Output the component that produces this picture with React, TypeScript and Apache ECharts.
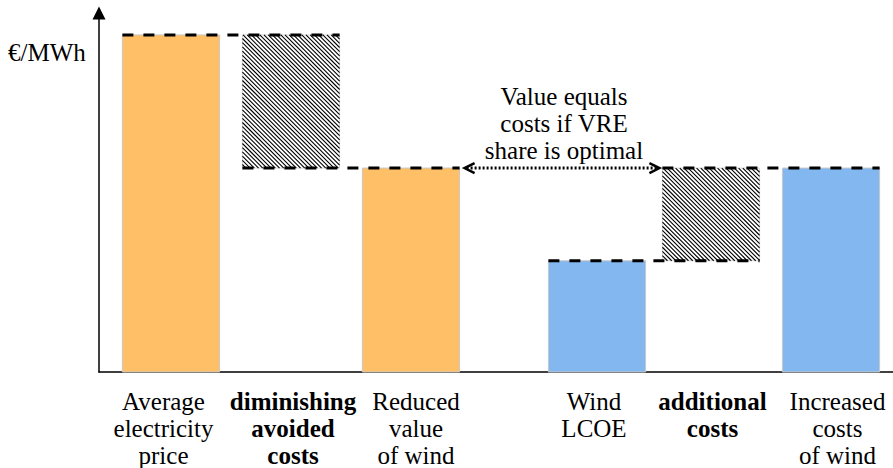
import React, { useEffect, useRef } from 'react';
import * as echarts from 'echarts';

// ---- data ----
const categories = [
  'Average\nelectricity\nprice',
  'diminishing\navoided\ncosts',
  'Reduced\nvalue\nof wind',
  'Wind\nLCOE',
  'additional\ncosts',
  'Increased\ncosts\nof wind',
];
const categoryPos = [0, 1, 2, 3.55, 4.5, 5.5];
const barLow = [0, 60.5, 0, 0, 33, 0];
const barHigh = [100, 100, 60.5, 33, 60.5, 60.5];
const barKind = ['value', 'delta', 'value', 'cost', 'delta', 'cost'];
const yAxisName = '€/MWh';
const noteText = 'Value equals\ncosts if VRE\nshare is optimal';

// ---- styles ----
const BAR_W = 0.81;
const FAMILY = 'Liberation Serif';
const LINE_H = 27;
const LABEL_SHIFT = [-7.5, 2, 5, -3, 1.5, 6.5]; // px, horizontal nudge of each category label
const COLORS: Record<string, string> = { value: '#FFBF66', cost: '#83B7EF' };

// connectors (dashed lines) derived from data
const connectors: number[][] = [];
barKind.forEach((k, i) => {
  if (k !== 'delta') return;
  connectors.push([categoryPos[i - 1] - BAR_W / 2, categoryPos[i] + BAR_W / 2, barHigh[i - 1]]);
  connectors.push([categoryPos[i] - BAR_W / 2, categoryPos[i + 1] + BAR_W / 2, barHigh[i + 1]]);
});
const arrowFrom = barKind.lastIndexOf('value');
const arrowTo = barKind.lastIndexOf('delta');
const arrowData = [[categoryPos[arrowFrom] + BAR_W / 2, categoryPos[arrowTo] - BAR_W / 2, barHigh[arrowFrom]]];

const barData = categories.map((_, i) => [categoryPos[i], barLow[i], barHigh[i]]);

const lineText = (id: string, text: string, x: number, y: number, weight: string, align: string) => ({
  id,
  type: 'text',
  x,
  y,
  style: {
    text,
    fontSize: 25,
    fontFamily: FAMILY,
    fontWeight: weight,
    align,
    verticalAlign: 'middle',
    fill: '#000',
  },
});

export default function App() {
  const ref = useRef<HTMLDivElement>(null);
  useEffect(() => {
    document.body.style.margin = '0';
    const chart = echarts.init(ref.current!, null, { renderer: 'svg' });
    const option: any = {
      animation: false,
      textStyle: { fontFamily: FAMILY, fontSize: 25, color: '#000' },
      grid: { left: 99, right: 0, top: 13, bottom: 96 },
      xAxis: {
        type: 'value',
        min: -0.6,
        max: 6.0167,
        axisLine: { show: true, onZero: false, lineStyle: { color: '#000', width: 1.5 } },
        axisTick: { show: false },
        axisLabel: { show: false },
        splitLine: { show: false },
      },
      yAxis: {
        type: 'value',
        min: 0,
        max: 106.5,
        axisLine: {
          show: true,
          onZero: false,
          symbol: ['none', 'triangle'],
          symbolSize: [13, 13],
          lineStyle: { color: '#000', width: 1.5 },
        },
        axisTick: { show: false },
        axisLabel: { show: false },
        splitLine: { show: false },
      },
      series: [
        {
          type: 'custom',
          data: barData,
          clip: false,
          renderItem: (params: any, api: any) => {
            const i = params.dataIndex;
            const kind = barKind[i];
            const pos = api.value(0);
            const p0 = api.coord([pos - BAR_W / 2, api.value(2)]);
            const p1 = api.coord([pos + BAR_W / 2, api.value(1)]);
            const x0 = p0[0], y0 = p0[1], x1 = p1[0], y1 = p1[1];
            const children: any[] = [];
            if (kind === 'delta') {
              const s = 4.2;
              let d = '';
              for (let k = y0 - x1; k <= y1 - x0; k += s) {
                const xa = Math.max(x0, y0 - k);
                const xb = Math.min(x1, y1 - k);
                if (xb > xa) d += `M${xa.toFixed(2)},${(xa + k).toFixed(2)}L${xb.toFixed(2)},${(xb + k).toFixed(2)}`;
              }
              children.push({
                type: 'rect',
                shape: { x: x0, y: y0, width: x1 - x0, height: y1 - y0 },
                style: { fill: '#fff', stroke: '#ccc', lineWidth: 0.8 },
              });
              children.push({
                type: 'path',
                shape: { pathData: d },
                style: { fill: null, stroke: '#000', lineWidth: 1.1 },
              });
            } else {
              children.push({
                type: 'rect',
                shape: { x: x0, y: y0, width: x1 - x0, height: y1 - y0 },
                style: { fill: COLORS[kind], stroke: '#c8c8c8', lineWidth: 1 },
              });
            }
            return { type: 'group', children };
          },
        },
        {
          type: 'custom',
          data: connectors,
          clip: false,
          renderItem: (params: any, api: any) => {
            const a = api.coord([api.value(0), api.value(2)]);
            const b = api.coord([api.value(1), api.value(2)]);
            return {
              type: 'line',
              shape: { x1: a[0], y1: a[1], x2: b[0], y2: b[1] },
              style: { stroke: '#000', lineWidth: 3, lineDash: [11, 10] },
            };
          },
        },
        {
          type: 'custom',
          data: arrowData,
          clip: false,
          renderItem: (params: any, api: any) => {
            const a = api.coord([api.value(0), api.value(2)]);
            const b = api.coord([api.value(1), api.value(2)]);
            const xl = a[0] + 5;
            const xr = b[0] - 3;
            const y = a[1];
            return {
              type: 'group',
              children: [
                {
                  type: 'line',
                  shape: { x1: xl + 2, y1: y, x2: xr - 2, y2: y },
                  style: { stroke: '#000', lineWidth: 3, lineDash: [2, 2] },
                },
                {
                  type: 'polyline',
                  shape: { points: [[xl + 10, y - 5], [xl, y], [xl + 10, y + 5]] },
                  style: { stroke: '#000', lineWidth: 2.5, fill: null },
                },
                {
                  type: 'polyline',
                  shape: { points: [[xr - 10, y - 5], [xr, y], [xr - 10, y + 5]] },
                  style: { stroke: '#000', lineWidth: 2.5, fill: null },
                },
              ],
            };
          },
        },
      ],
    };
    chart.setOption(option);

    // texts placed through the chart's own scales, one element per line
    const graphics: any[] = [lineText('yname', yAxisName, 8, 52, 'normal', 'left')];
    categories.forEach((c, i) => {
      const p = chart.convertToPixel({ gridIndex: 0 }, [categoryPos[i], 0]);
      const weight = barKind[i] === 'delta' ? 'bold' : 'normal';
      c.split('\n').forEach((line, j) => {
        graphics.push(
          lineText(`cat${i}_${j}`, line, p[0] + LABEL_SHIFT[i], p[1] + 29 + j * LINE_H, weight, 'center')
        );
      });
    });
    const a = chart.convertToPixel({ gridIndex: 0 }, [arrowData[0][0], arrowData[0][2]]);
    const b = chart.convertToPixel({ gridIndex: 0 }, [arrowData[0][1], arrowData[0][2]]);
    const noteLines = noteText.split('\n');
    noteLines.forEach((line, j) => {
      const y = a[1] - 18 - (noteLines.length - 1 - j) * LINE_H;
      graphics.push(lineText(`note${j}`, line, (a[0] + b[0]) / 2 + 3, y, 'normal', 'center'));
    });
    chart.setOption({ graphic: graphics });
    return () => chart.dispose();
  }, []);
  return <div ref={ref} style={{ width: 893, height: 468 }} />;
}
